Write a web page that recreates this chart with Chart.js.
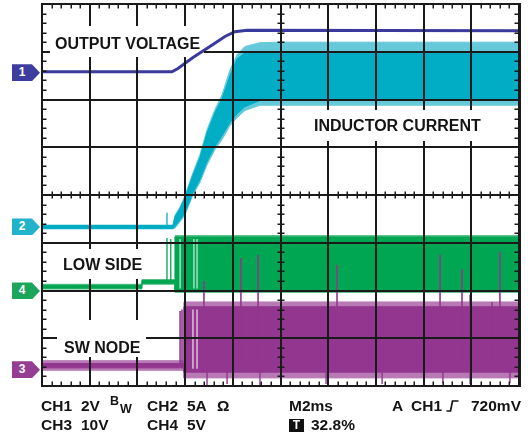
<!DOCTYPE html>
<html>
<head>
<meta charset="utf-8">
<script src="https://cdn.jsdelivr.net/npm/chart.js@4.4.1/dist/chart.umd.min.js"></script>
<style>
html,body{margin:0;padding:0;background:#fff;}
#wrap{position:relative;width:528px;height:440px;overflow:hidden;font-family:"Liberation Sans",Arial,sans-serif;font-weight:bold;color:#141414;}
#c{position:absolute;left:0;top:0;}
.lbl{position:absolute;font-size:16px;line-height:16px;white-space:pre;}
.st{position:absolute;font-size:15.5px;line-height:16px;white-space:pre;}
.sm{position:absolute;font-size:12.5px;line-height:13px;white-space:pre;}
.mk{position:absolute;left:12px;width:28px;height:17px;clip-path:polygon(0 0,71% 0,100% 50%,71% 100%,0 100%);color:#fff;font-size:12px;line-height:17px;}
.mk span{display:block;width:20px;text-align:center;}
#tbox{position:absolute;left:289px;top:419px;width:15px;height:13px;background:#111;color:#fff;font-size:12px;line-height:13px;text-align:center;}
</style>
</head>
<body>
<div id="wrap">
<canvas id="c" width="528" height="440"></canvas>
<div class="lbl" style="left:55px;top:36px;">OUTPUT VOLTAGE</div>
<div class="lbl" style="left:314px;top:118px;">INDUCTOR CURRENT</div>
<div class="lbl" style="left:63px;top:257px;">LOW SIDE</div>
<div class="lbl" style="left:64px;top:340px;">SW NODE</div>

<div class="st" style="left:41px;top:398px;">CH1</div>
<div class="st" style="left:81px;top:398px;">2V</div>
<div class="sm" style="left:110px;top:395px;">B</div>
<div class="sm" style="left:120px;top:403px;">W</div>
<div class="st" style="left:147px;top:398px;">CH2</div>
<div class="st" style="left:187px;top:398px;">5A</div>
<div class="st" style="left:217px;top:398px;">Ω</div>
<div class="st" style="left:289px;top:398px;">M2ms</div>
<div class="st" style="left:392px;top:398px;">A</div>
<div class="st" style="left:411px;top:398px;">CH1</div>
<svg style="position:absolute;left:446px;top:400px;" width="13" height="13"><polyline points="0.5,11 4.5,11 6.5,1 12.5,1" fill="none" stroke="#141414" stroke-width="1.7"/></svg>
<div class="st" style="left:471px;top:398px;">720mV</div>

<div class="st" style="left:41px;top:417px;">CH3</div>
<div class="st" style="left:81px;top:417px;">10V</div>
<div class="st" style="left:147px;top:417px;">CH4</div>
<div class="st" style="left:187px;top:417px;">5V</div>
<div id="tbox">T</div>
<div class="st" style="left:311px;top:417px;">32.8%</div>
</div>

<script>
// ---- axes (time in ms, 2 ms/div; vertical in screen divisions) ----
const xMajorMs = [0, 2, 4, 6, 8, 10, 12, 14, 16, 18, 20];
const yMajorDiv = [0, 1, 2, 3, 4, 5, 6, 7, 8];
const minorPerDiv = 5;

// ---- channel reference markers ----
const markerNames = ['1', '2', '4', '3'];
const markerLevels = [6.56, 3.33, 1.99, 0.34];
const markerColors = ['#3d3d9f', '#22b2ca', '#1ca65b', '#953c93'];

// ---- CH1 output voltage ----
const ch1Time = [0, 5.45, 5.70, 6.33, 7.04, 7.67, 8.09, 8.60, 20];
const ch1Level = [6.58, 6.58, 6.65, 6.88, 7.11, 7.32, 7.42, 7.45, 7.44];

// ---- CH2 inductor current (ripple envelope) ----
const ch2Time = [0, 5.49, 5.58, 5.79, 5.99, 6.33, 6.62, 6.92, 7.25, 7.55, 7.88, 8.18, 8.51, 9.14, 9.98, 20];
const ch2OuterHi = [3.37, 3.37, 3.58, 3.75, 3.98, 4.47, 4.84, 5.37, 5.79, 6.10, 6.62, 6.94, 7.11, 7.19, 7.20, 7.20];
const ch2OuterLo = [3.29, 3.29, 3.31, 3.44, 3.58, 4.00, 4.26, 4.63, 4.95, 5.16, 5.45, 5.62, 5.77, 5.88, 5.88, 5.88];
const ch2CoreHi = [3.36, 3.36, 3.55, 3.72, 3.94, 4.42, 4.78, 5.30, 5.72, 6.02, 6.50, 6.85, 6.98, 7.00, 7.00, 7.00];
const ch2CoreLo = [3.30, 3.30, 3.34, 3.48, 3.62, 4.05, 4.32, 4.70, 5.02, 5.24, 5.52, 5.70, 5.85, 5.98, 6.02, 6.02];
const ch2SpikeTime = [5.24];
const ch2SpikeTop = [3.63];

// ---- CH4 low side gate ----
const ch4Time = [0, 4.19, 4.19, 5.58, 5.58, 20];
const ch4OuterHi = [2.13, 2.13, 2.23, 2.23, 3.15, 3.15];
const ch4OuterLo = [2.03, 2.03, 2.13, 2.13, 1.96, 1.96];
const ch4CoreHi = [2.11, 2.11, 2.21, 2.21, 3.12, 3.12];
const ch4CoreLo = [2.05, 2.05, 2.15, 2.15, 2.00, 2.00];
const ch4SpikeTime = [5.24, 5.40];
const ch4SpikeTop = [3.10, 3.08];
const ch4GapTime = [5.79, 6.00, 6.37, 6.50];

// ---- CH3 switch node ----
const ch3Time = [0, 5.95, 5.95, 20];
const ch3OuterHi = [0.53, 0.53, 1.76, 1.76];
const ch3OuterLo = [0.33, 0.33, 0.17, 0.17];
const ch3CoreHi = [0.47, 0.47, 1.66, 1.66];
const ch3CoreLo = [0.38, 0.38, 0.29, 0.29];
const ch3SpikeTime = [5.79, 5.87, 6.79, 8.34, 9.06, 12.37, 16.69, 17.61, 17.95, 18.87, 19.20];
const ch3SpikeTop = [1.57, 1.60, 2.20, 2.68, 2.75, 2.54, 2.75, 2.45, 1.91, 1.76, 2.81];
const ch3DipTime = [6.92, 7.76, 9.14, 11.91, 14.26, 16.81, 17.95, 19.62];
const ch3DipBottom = [0.00, 0.04, 0.02, 0.04, 0.04, 0.06, 0.04, 0.06];
const ch3GapTime = [6.33, 6.50];

// ---- label boxes that interrupt the graticule (pixels) ----
const labelBoxes = [[50, 26, 204, 57], [305, 110, 488, 141], [55, 249, 150, 279], [57, 320, 146, 357]];

const gridColor = '#1a1a1a';
const cBlue = '#3a3a9c', cCyan = '#00adc5', cCyanF = '#66c9da';
const cGreen = '#00a651', cGreenF = '#58c087', cPurple = '#93368f', cPurpleF = '#b87ab5';

function pts(xs, ys) { return xs.map((x, i) => ({x: x, y: ys[i]})); }
function segs(xs, base, tops) {
  const d = [];
  xs.forEach((x, i) => { d.push({x: x, y: base}, {x: x, y: tops[i]}, {x: x, y: null}); });
  return d;
}
function line(label, data, color, width, order, fill, bg) {
  return {label: label, data: data, borderColor: color, backgroundColor: bg || color, borderWidth: width,
    pointRadius: 0, tension: 0, fill: fill || false, order: order, spanGaps: false};
}

const datasets = [
  line('CH1', pts(ch1Time, ch1Level), cBlue, 3, 0),
  line('CH3 spikes', segs(ch3SpikeTime, 0.45, ch3SpikeTop), cPurple, 1.6, 1),
  line('CH3 dips', segs(ch3DipTime, 0.3, ch3DipBottom), cPurple, 1.4, 1),
  line('CH3 gaps', segs(ch3GapTime, 0.36, [1.6, 1.6]), 'rgba(255,255,255,0.85)', 1.2, 2),
  line('CH3 core hi', pts(ch3Time, ch3CoreHi), cPurple, 1, 3, '+1', cPurple),
  line('CH3 core lo', pts(ch3Time, ch3CoreLo), cPurple, 1, 3),
  line('CH3 fringe hi', pts(ch3Time, ch3OuterHi), cPurpleF, 1, 4, '+1', cPurpleF),
  line('CH3 fringe lo', pts(ch3Time, ch3OuterLo), cPurpleF, 1, 4),
  line('CH4 spikes', segs(ch4SpikeTime, 2.18, ch4SpikeTop), cGreen, 1.3, 5),
  line('CH4 gaps', segs(ch4GapTime, 2.04, [3.08, 3.08, 3.08, 3.08]), 'rgba(255,255,255,0.8)', 1.2, 6),
  line('CH4 core hi', pts(ch4Time, ch4CoreHi), cGreen, 1, 7, '+1', cGreen),
  line('CH4 core lo', pts(ch4Time, ch4CoreLo), cGreen, 1, 7),
  line('CH4 fringe hi', pts(ch4Time, ch4OuterHi), cGreenF, 1, 8, '+1', cGreenF),
  line('CH4 fringe lo', pts(ch4Time, ch4OuterLo), cGreenF, 1, 8),
  line('CH2 spike', segs(ch2SpikeTime, 3.33, ch2SpikeTop), cCyan, 1.3, 9),
  line('CH2 core hi', pts(ch2Time, ch2CoreHi), cCyan, 1, 10, '+1', cCyan),
  line('CH2 core lo', pts(ch2Time, ch2CoreLo), cCyan, 1, 10),
  line('CH2 fringe hi', pts(ch2Time, ch2OuterHi), cCyanF, 1, 11, '+1', cCyanF),
  line('CH2 fringe lo', pts(ch2Time, ch2OuterLo), cCyanF, 1, 11)
];

const scopeGrid = {
  id: 'scopeGrid',
  afterDatasetsDraw(chart) {
    const ctx = chart.ctx, xs = chart.scales.x, ys = chart.scales.y;
    const L = Math.round(xs.getPixelForValue(xMajorMs[0])), R = Math.round(xs.getPixelForValue(xMajorMs[xMajorMs.length - 1]));
    const B = Math.round(ys.getPixelForValue(yMajorDiv[0])), T = Math.round(ys.getPixelForValue(yMajorDiv[yMajorDiv.length - 1]));
    const xc = Math.round(xs.getPixelForValue(10)), yc = Math.round(ys.getPixelForValue(4));
    ctx.save();
    ctx.beginPath();
    ctx.rect(0, 0, chart.width, chart.height);
    labelBoxes.forEach(b => ctx.rect(b[0], b[1], b[2] - b[0], b[3] - b[1]));
    ctx.clip('evenodd');
    ctx.strokeStyle = gridColor;
    ctx.lineWidth = 2;
    ctx.beginPath();
    xMajorMs.forEach(v => { const p = Math.round(xs.getPixelForValue(v)); ctx.moveTo(p, T); ctx.lineTo(p, B); });
    yMajorDiv.forEach(v => { const p = Math.round(ys.getPixelForValue(v)); ctx.moveTo(L - 1, p); ctx.lineTo(R + 1, p); });
    ctx.stroke();
    ctx.lineWidth = 3;
    ctx.beginPath(); ctx.moveTo(R + 0.5, T - 1); ctx.lineTo(R + 0.5, B + 1); ctx.stroke();
    // minor ticks
    ctx.lineWidth = 1.5;
    ctx.beginPath();
    const xStep = (xMajorMs[1] - xMajorMs[0]) / minorPerDiv;
    for (let k = 0; k <= (xMajorMs.length - 1) * minorPerDiv; k++) {
      const p = Math.round(xs.getPixelForValue(xMajorMs[0] + k * xStep)) + 0.25;
      ctx.moveTo(p, T); ctx.lineTo(p, T + 4.5);
      ctx.moveTo(p, B); ctx.lineTo(p, B - 4.5);
      ctx.moveTo(p, yc - 3.5); ctx.lineTo(p, yc + 3.5);
    }
    const yStep = (yMajorDiv[1] - yMajorDiv[0]) / minorPerDiv;
    for (let k = 0; k <= (yMajorDiv.length - 1) * minorPerDiv; k++) {
      const p = Math.round(ys.getPixelForValue(yMajorDiv[0] + k * yStep)) + 0.25;
      ctx.moveTo(L, p); ctx.lineTo(L + 4.5, p);
      ctx.moveTo(R, p); ctx.lineTo(R - 4.5, p);
      ctx.moveTo(xc - 3.5, p); ctx.lineTo(xc + 3.5, p);
    }
    ctx.stroke();
    ctx.restore();
  }
};

const chart = new Chart(document.getElementById('c'), {
  type: 'line',
  data: {datasets: datasets},
  options: {
    responsive: false,
    devicePixelRatio: 1,
    animation: false,
    events: [],
    layout: {padding: {left: 42, right: 9, top: 4, bottom: 54}},
    plugins: {legend: {display: false}, tooltip: {enabled: false}, filler: {propagate: false}},
    scales: {
      x: {type: 'linear', min: 0, max: 20, display: false},
      y: {type: 'linear', min: 0, max: 8, display: false}
    }
  },
  plugins: [scopeGrid]
});

const wrap = document.getElementById('wrap');
markerLevels.forEach((lv, i) => {
  const py = chart.scales.y.getPixelForValue(lv);
  const d = document.createElement('div');
  d.className = 'mk';
  d.style.top = (py - 8.5) + 'px';
  d.style.background = markerColors[i];
  d.innerHTML = '<span>' + markerNames[i] + '</span>';
  wrap.appendChild(d);
});
</script>
</body>
</html>
